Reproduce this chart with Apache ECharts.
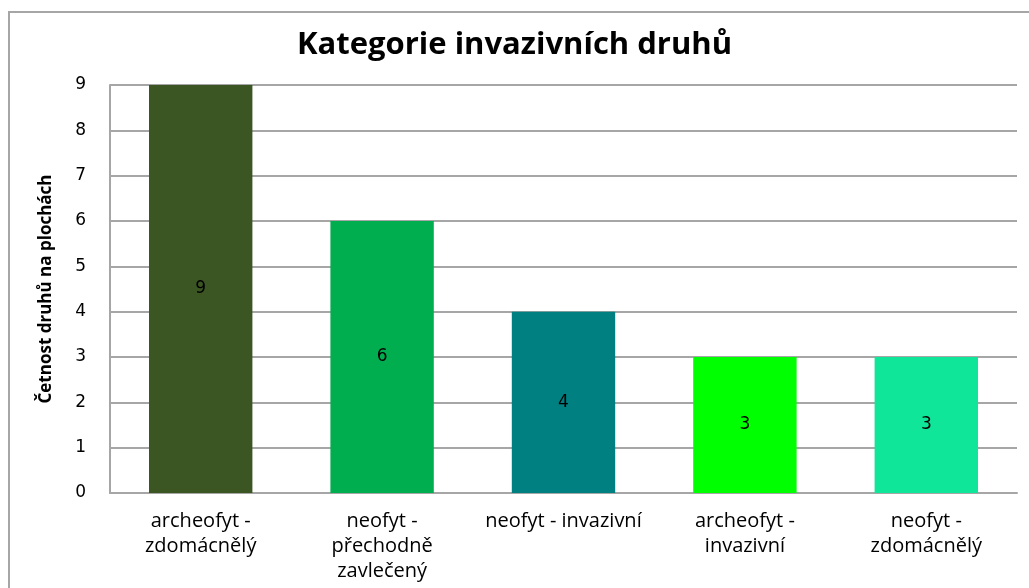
<!DOCTYPE html>
<html>
<head>
<meta charset="utf-8">
<script src="https://cdn.jsdelivr.net/npm/echarts@6/dist/echarts.min.js"></script>
<style>
  html, body { margin: 0; padding: 0; background: #fff; }
  #chart { width: 1029px; height: 588px; }
</style>
</head>
<body>
<div id="chart"></div>
<script>
// data
const categories = [
  'archeofyt -\nzdomácnělý',
  'neofyt -\npřechodně\nzavlečený',
  'neofyt - invazivní',
  'archeofyt -\ninvazivní',
  'neofyt -\nzdomácnělý'
]
const counts = [9, 6, 4, 3, 3]
const barColors = ['#3B5523', '#00AE4F', '#008080', '#00FF00', '#0FE699']

const chart = echarts.init(document.getElementById('chart'))

const option = {
  animation: false,
  title: {
    text: 'Kategorie invazivních druhů',
    left: 'center',
    top: 25,
    textStyle: {
      fontFamily: '"Open Sans", sans-serif',
      fontSize: 31,
      fontWeight: 'bold',
      color: '#000'
    }
  },
  graphic: [{
    type: 'rect',
    shape: { x: 9, y: 12, width: 1100, height: 700 },
    style: { fill: 'none', stroke: '#a6a6a6', lineWidth: 2 },
    silent: true
  }],
  grid: {
    left: 110,
    right: 12,
    top: 85,
    bottom: 95
  },
  xAxis: {
    type: 'category',
    data: categories,
    axisLine: { lineStyle: { color: '#a6a6a6', width: 2 } },
    axisTick: { show: false },
    axisLabel: {
      interval: 0,
      margin: 16,
      color: '#000',
      fontFamily: '"Open Sans", sans-serif',
      fontSize: 20,
      lineHeight: 25
    }
  },
  yAxis: {
    type: 'value',
    min: 0,
    max: 9,
    interval: 1,
    name: 'Četnost druhů na plochách',
    nameLocation: 'middle',
    nameGap: 55,
    nameTextStyle: {
      color: '#000',
      fontFamily: '"Open Sans", sans-serif',
      fontSize: 17,
      fontWeight: 'bold'
    },
    axisLine: { show: true, lineStyle: { color: '#a6a6a6', width: 2 } },
    axisTick: { show: false },
    axisLabel: {
      margin: 24,
      color: '#000',
      fontFamily: '"DejaVu Sans", sans-serif',
      fontSize: 17
    },
    splitLine: { lineStyle: { color: '#a6a6a6', width: 2 } }
  },
  series: [{
    type: 'bar',
    barWidth: '57%',
    data: counts.map((v, i) => ({ value: v, itemStyle: { color: barColors[i] } })),
    label: {
      show: true,
      position: 'inside',
      color: '#000',
      fontFamily: '"DejaVu Sans", sans-serif',
      fontSize: 17
    }
  }]
}

chart.setOption(option)
</script>
</body>
</html>
